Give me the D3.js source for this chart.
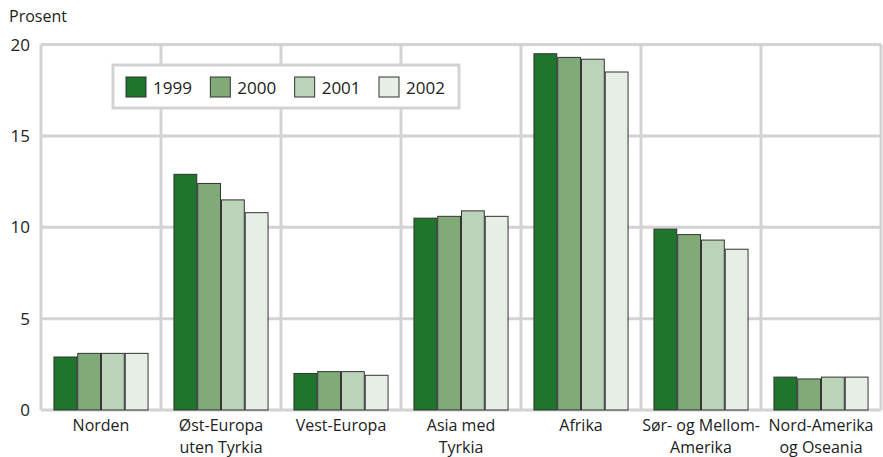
<!DOCTYPE html>
<html><head><meta charset="utf-8">
<script src="https://cdn.jsdelivr.net/npm/d3@7"></script>
<style>body{margin:0;background:#fff}text{font-family:"Open Sans",sans-serif;fill:#222}</style>
</head><body><svg id="c" width="883" height="457"></svg>
<script>
const categories = [["Norden"],["Øst-Europa","uten Tyrkia"],["Vest-Europa"],["Asia med","Tyrkia"],["Afrika"],["Sør- og Mellom-","Amerika"],["Nord-Amerika","og Oseania"]];
const years = ["1999","2000","2001","2002"];
const v1999 = [2.9,12.9,2.0,10.5,19.5,9.9,1.8];
const v2000 = [3.1,12.4,2.1,10.6,19.3,9.6,1.7];
const v2001 = [3.1,11.5,2.1,10.9,19.2,9.3,1.8];
const v2002 = [3.1,10.8,1.9,10.6,18.5,8.8,1.8];
const yTicks = [0,5,10,15,20];
const series = [v1999,v2000,v2001,v2002];
const colors = ["#1d762c","#80aa77","#bbd3b9","#e6eee5"];

const svg = d3.select("#c");
const L=41,R=881,T=44.6,B=410;
const x0 = d3.scaleBand().domain(d3.range(categories.length)).range([L,R]).paddingInner(0).paddingOuter(0);
const x1 = d3.scaleBand().domain(d3.range(years.length)).range([12,x0.bandwidth()-12]).padding(0.04);
const y = d3.scaleLinear().domain([0,20]).range([B,T]);
const grid="#d3d3d3";
svg.append("g").selectAll("line").data(yTicks).join("line")
  .attr("x1",L).attr("x2",R).attr("y1",d=>y(d)).attr("y2",d=>y(d))
  .attr("stroke",grid).attr("stroke-width",3);
svg.append("g").selectAll("line").data(d3.range(categories.length+1)).join("line")
  .attr("x1",d=>d<categories.length?x0(d):R).attr("x2",d=>d<categories.length?x0(d):R)
  .attr("y1",T).attr("y2",B).attr("stroke",grid).attr("stroke-width",3);
const g = svg.append("g").selectAll("g").data(categories).join("g").attr("transform",(d,i)=>`translate(${x0(i)},0)`);
g.selectAll("rect").data((d,i)=>series.map((s,k)=>({k,v:s[i]}))).join("rect")
  .attr("x",d=>x1(d.k)).attr("width",x1.bandwidth())
  .attr("y",d=>y(d.v)).attr("height",d=>B-y(d.v))
  .attr("fill",d=>colors[d.k]).attr("stroke","#333").attr("stroke-width",1);
svg.append("g").selectAll("text").data(yTicks).join("text")
  .attr("x",30).attr("y",d=>y(d)+6).attr("text-anchor","end").attr("font-size",17).text(d=>d);
svg.append("text").attr("x",9).attr("y",22).attr("font-size",16).text("Prosent");
const lines = [];
categories.forEach((c,i)=>c.forEach((t,j)=>lines.push({i,j,t})));
svg.append("g").selectAll("text").data(lines).join("text")
  .attr("x",d=>x0(d.i)+x0.bandwidth()/2).attr("y",d=>431+d.j*21.8)
  .attr("text-anchor","middle").attr("font-size",16).text(d=>d.t);
const lg = svg.append("g");
lg.append("rect").attr("x",113).attr("y",65).attr("width",346).attr("height",43).attr("fill","#fff").attr("stroke",grid).attr("stroke-width",3);
const legX = d3.scalePoint().domain(years).range([126,379]);
const li = lg.selectAll("g").data(years).join("g").attr("transform",d=>`translate(${legX(d)},77)`);
li.append("rect").attr("width",20).attr("height",20).attr("fill",(d,i)=>colors[i]).attr("stroke","#333");
li.append("text").attr("x",27).attr("y",17).attr("font-size",17).text(d=>d);
</script></body></html>
